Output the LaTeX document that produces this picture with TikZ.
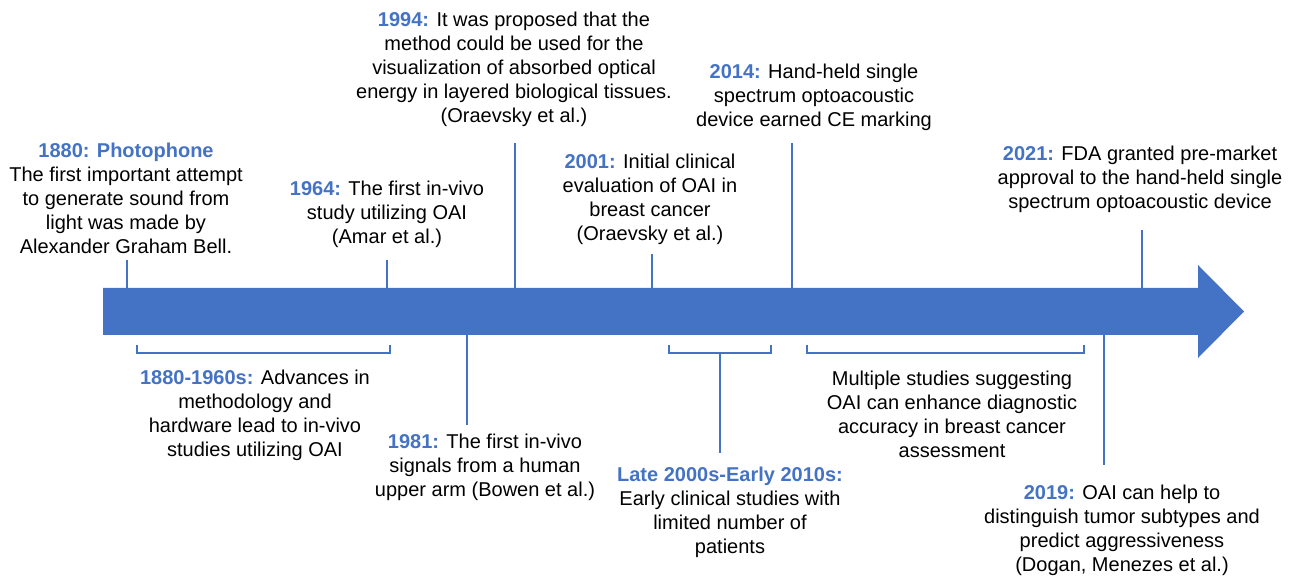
\documentclass[tikz,border=0pt]{standalone}
\usepackage{fontspec}
\setmainfont{Liberation Sans}
\usepackage{xcolor}
\usepackage{tikz}
\usetikzlibrary{arrows.meta,positioning}
\definecolor{oaiblue}{RGB}{68,114,196}
\newcommand{\yr}[1]{\textcolor{oaiblue}{\textbf{#1}}}

\begin{document}
\begin{tikzpicture}[
  x=0.5pt,y=-0.5pt,
  font=\fontsize{10}{12}\selectfont,
  event/.style={align=center,inner sep=0pt},
  tick/.style={draw=oaiblue,line width=1pt},
  bracket/.style={draw=oaiblue,line width=0.75pt}
]
\useasboundingbox (0,0) rectangle (1296,576);

% timeline arrow
\coordinate (bartop) at (103,288);
\coordinate (barbot) at (103,335);
\fill[oaiblue] (103,288) -- (1198,288) -- (1198,265) -- (1244,311.5)
  -- (1198,358) -- (1198,335) -- (103,335) -- cycle;

% events above the arrow
\node[event] (e1880) at (126,198) {\yr{1880: Photophone}\\The first important attempt\\to generate sound from\\light was made by\\Alexander Graham Bell.};
\node[event] (e1964) at (387,214) {\yr{1964:} The first in-vivo\\study utilizing OAI\\(Amar et al.)};
\node[event] (e1994) at (514,69)  {\yr{1994:} It was proposed that the\\method could be used for the\\visualization of absorbed optical\\energy in layered biological tissues.\\(Oraevsky et al.)};
\node[event] (e2001) at (650,199) {\yr{2001:} Initial clinical\\evaluation of OAI in\\breast cancer\\(Oraevsky et al.)};
\node[event] (e2014) at (814,97)  {\yr{2014:} Hand-held single\\spectrum optoacoustic\\device earned CE marking};
\node[event] (e2021) at (1140,179) {\yr{2021:} FDA granted pre-market\\approval to the hand-held single\\spectrum optoacoustic device};

% events below the arrow
\node[event] (e1880s) at (255,415) {\yr{1880-1960s:} Advances in\\methodology and\\hardware lead to in-vivo\\studies utilizing OAI};
\node[event] (e1981) at (485,467) {\yr{1981:} The first in-vivo\\signals from a human\\upper arm (Bowen et al.)};
\node[event] (e2000s) at (730,512) {\yr{Late 2000s-Early 2010s:}\\Early clinical studies with\\limited number of\\patients};
\node[event] (emulti) at (952,414) {Multiple studies suggesting\\OAI can enhance diagnostic\\accuracy in breast cancer\\assessment};
\node[event] (e2019) at (1122,530) {\yr{2019:} OAI can help to\\distinguish tumor subtypes and\\predict aggressiveness\\(Dogan, Menezes et al.)};

% tick marks
\coordinate (c1880) at (127,260);
\coordinate (c1964) at (387,260);
\coordinate (c1994) at (515,143);
\coordinate (c2001) at (652,254);
\coordinate (c2014) at (792,143);
\coordinate (c2021) at (1142,230);
\coordinate (c1981) at (467,425);
\coordinate (c2019) at (1104,465);
\foreach \c in {c1880,c1964,c1994,c2001,c2014,c2021} \draw[tick] (\c) -- (\c |- bartop);
\foreach \c in {c1981,c2019} \draw[tick] (\c) -- (\c |- barbot);

% brackets for periods
\coordinate (b1l) at (137,345); \coordinate (b1r) at (390,345);
\coordinate (b2l) at (669,345); \coordinate (b2r) at (771,345);
\coordinate (b3l) at (807,345); \coordinate (b3r) at (1084,345);
\foreach \b in {b1,b2,b3} \draw[bracket] (\b l) -- ++(0,8) -| (\b r);
\coordinate (s2) at (720,353);
\coordinate (s2end) at (720,453);
\draw[tick] (s2) -- (s2end);
\end{tikzpicture}
\end{document}
